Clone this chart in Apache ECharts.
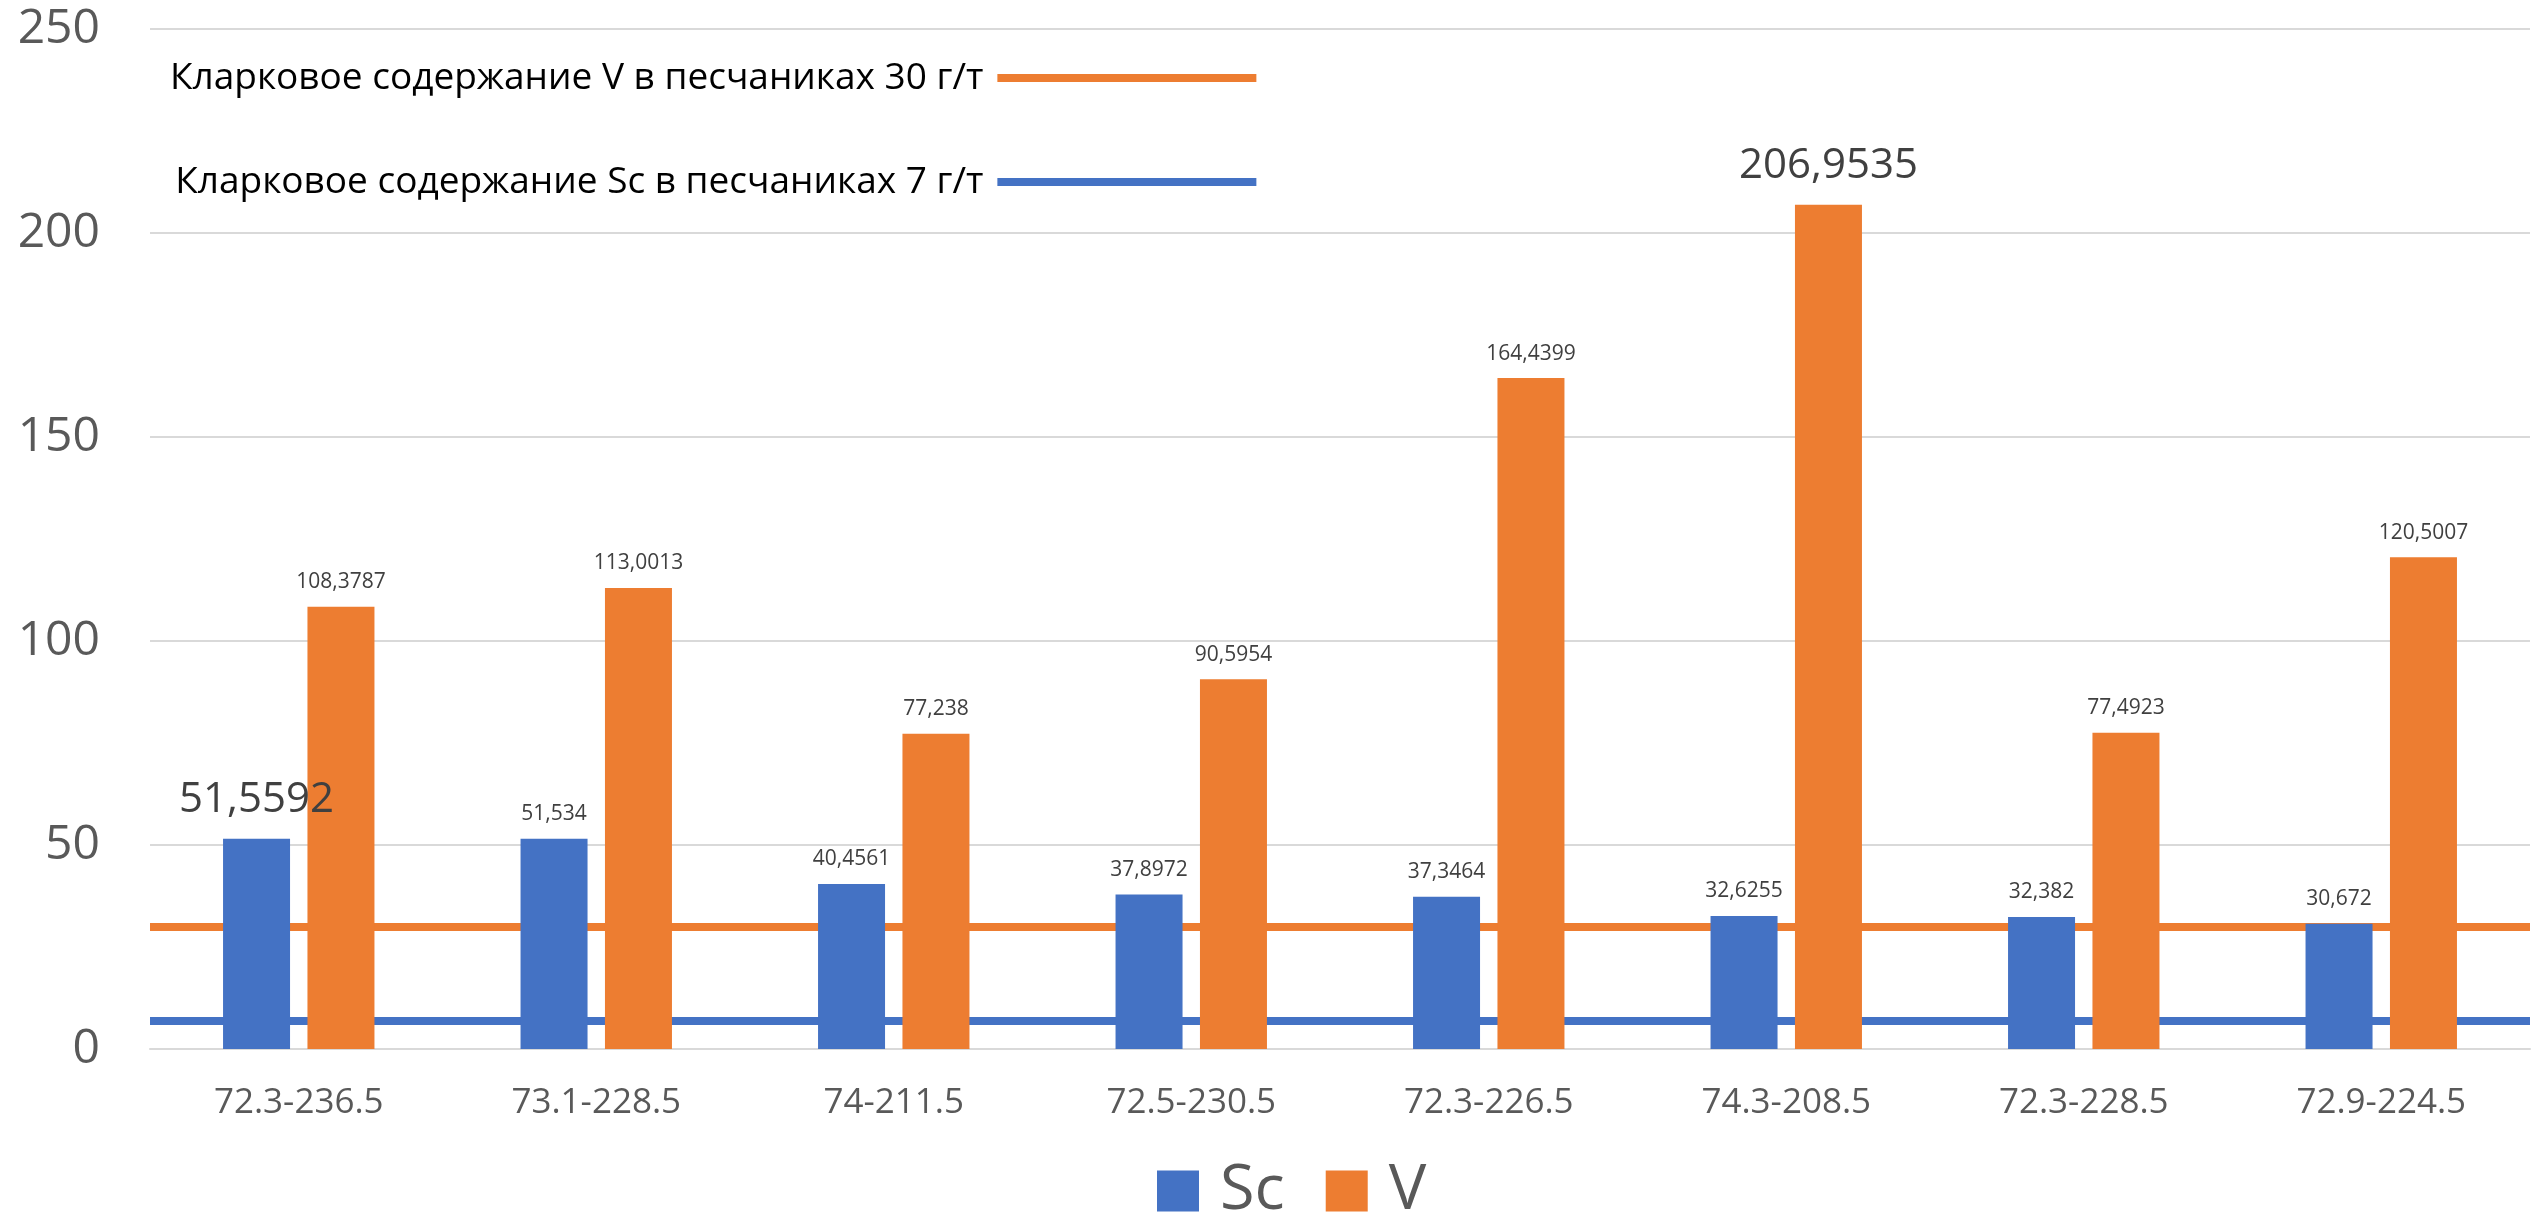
<!DOCTYPE html>
<html>
<head>
<meta charset="utf-8">
<title>Sc и V</title>
<script src="https://cdn.jsdelivr.net/npm/echarts@6/dist/echarts.min.js"></script>
<style>
  html, body { margin: 0; padding: 0; background: #fff; }
  #chart { width: 2534px; height: 1218px; }
</style>
</head>
<body>
<div id="chart"></div>
<script>
// Sample intervals
const categories = ['72.3-236.5', '73.1-228.5', '74-211.5', '72.5-230.5', '72.3-226.5', '74.3-208.5', '72.3-228.5', '72.9-224.5'];
// Contents, g/t
const scValues = [51.5592, 51.534, 40.4561, 37.8972, 37.3464, 32.6255, 32.382, 30.672];
const vValues = [108.3787, 113.0013, 77.238, 90.5954, 164.4399, 206.9535, 77.4923, 120.5007];
// Clarke values for sandstones, g/t
const clarkeV = 30;
const clarkeSc = 7;
const clarkeVName = 'Кларковое содержание V в песчаниках 30 г/т';
const clarkeScName = 'Кларковое содержание Sc в песчаниках 7 г/т';
// Value axis
const yMin = 0, yMax = 250, yStep = 50;
// Points whose labels are set in large type
const scBigLabels = [0];
const vBigLabels = [5];

const BLUE = '#4472C4';
const ORANGE = '#ED7D31';
const FONT = '"Open Sans", "Noto Sans", sans-serif';

const fmt = v => String(v).replace('.', ',');

function barData(values, bigIdx) {
  return values.map((v, i) => bigIdx.includes(i)
    ? { value: v, label: { fontSize: 42, distance: 18 } }
    : v);
}

function barSeries(name, values, color, bigIdx) {
  return {
    name: name,
    type: 'bar',
    z: 3,
    barWidth: 67,
    barGap: '26%',
    itemStyle: { color: color },
    label: {
      show: true,
      position: 'top',
      distance: 14,
      fontFamily: FONT,
      fontSize: 21,
      color: '#404040',
      formatter: p => fmt(p.value)
    },
    data: barData(values, bigIdx)
  };
}

function clarkeSeries(name, value, color) {
  return {
    name: name,
    type: 'line',
    z: 1,
    symbol: 'none',
    itemStyle: { color: color },
    lineStyle: { color: color, width: 8 },
    data: categories.map(() => null),
    markLine: {
      silent: true,
      symbol: 'none',
      z: 1,
      label: { show: false },
      lineStyle: { color: color, width: 8, type: 'solid' },
      emphasis: { disabled: true },
      data: [{ yAxis: value }]
    }
  };
}

const chart = echarts.init(document.getElementById('chart'), null, { renderer: 'canvas' });

chart.setOption({
  animation: false,
  backgroundColor: '#fff',
  textStyle: { fontFamily: FONT },
  grid: { left: 150, right: 4, top: 29, bottom: 169 },
  legend: [
    {
      data: ['Sc', 'V'],
      left: 1157,
      top: 1159,
      padding: 0,
      itemWidth: 42,
      itemHeight: 41,
      itemGap: 41,
      icon: 'rect',
      selectedMode: false,
      textStyle: {
        fontFamily: FONT,
        fontSize: 63,
        lineHeight: 64,
        color: '#595959',
        padding: [0, 0, 0, 16]
      }
    },
    {
      data: [clarkeVName, clarkeScName],
      orient: 'vertical',
      align: 'right',
      left: 170,
      top: 53,
      padding: 0,
      itemWidth: 259,
      itemHeight: 8,
      itemGap: 54,
      icon: 'rect',
      selectedMode: false,
      textStyle: {
        fontFamily: FONT,
        fontSize: 37,
        lineHeight: 50,
        color: '#000',
        padding: [0, 9, 0, 0]
      }
    }
  ],
  xAxis: {
    type: 'category',
    data: categories,
    axisLine: { lineStyle: { color: '#d9d9d9', width: 2 } },
    axisTick: { show: false },
    axisLabel: {
      fontFamily: FONT,
      fontSize: 35,
      color: '#595959',
      margin: 37
    }
  },
  yAxis: {
    type: 'value',
    min: yMin,
    max: yMax,
    interval: yStep,
    axisLine: { show: false },
    axisTick: { show: false },
    splitLine: { lineStyle: { color: '#d9d9d9', width: 2 } },
    axisLabel: {
      fontFamily: FONT,
      fontSize: 48,
      color: '#595959',
      margin: 50
    }
  },
  series: [
    clarkeSeries(clarkeVName, clarkeV, ORANGE),
    clarkeSeries(clarkeScName, clarkeSc, BLUE),
    barSeries('Sc', scValues, BLUE, scBigLabels),
    barSeries('V', vValues, ORANGE, vBigLabels)
  ]
});
</script>
</body>
</html>
